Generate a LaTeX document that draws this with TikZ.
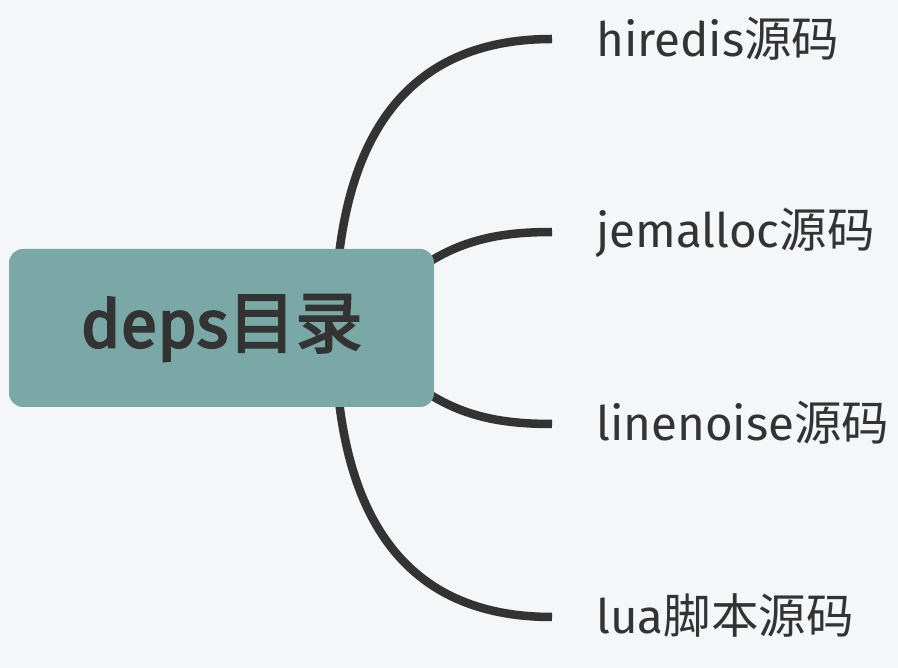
\documentclass[tikz,border=0pt]{standalone}
\usepackage{fontspec}
\setmainfont{Fira Sans}
\newfontfamily\cjk{Noto Sans CJK SC}
\newfontfamily\rootlatin{Fira Sans}[FakeBold=3]
\newfontfamily\rootcjk{Noto Sans CJK SC}[FakeBold=3]
\usetikzlibrary{calc}
\definecolor{bgc}{HTML}{F5F6F8}
\definecolor{boxc}{HTML}{79A8A7}
\definecolor{ink}{HTML}{333333}
\begin{document}
\begin{tikzpicture}[x=1pt,y=-1pt,
  branch/.style={draw=ink, line width=8.5pt},
  leaf/.style={anchor=base west, inner sep=0pt, text=ink, font=\fontsize{47.5}{56}\selectfont},
  rootbox/.style={fill=boxc, rounded corners=14pt, minimum width=425pt, minimum height=158pt, inner sep=0pt, text=ink, font=\fontsize{67}{80}\selectfont}]
  \fill[bgc] (0,0) rectangle (898,668);
  \useasboundingbox (0,0) rectangle (898,668);
  % hidden start points and line ends
  \coordinate (s1) at (335,328);
  \coordinate (s2) at (420,268);
  \coordinate (s3) at (420,388);
  \coordinate (s4) at (335,328);
  \coordinate (e1) at (552,39);
  \coordinate (e2) at (552,232);
  \coordinate (e3) at (552,424);
  \coordinate (e4) at (552,617);
  % branches
  \draw[branch] (s1) .. controls (335,136) and (407,39) .. (e1);
  \draw[branch] (s2) .. controls (460,240) and (500,232) .. (e2);
  \draw[branch] (s3) .. controls (460,416) and (500,424) .. (e3);
  \draw[branch] (s4) .. controls (335,520) and (407,617) .. (e4);
  % root
  \node[rootbox] (root) at (221.5,328) {{\rootlatin deps}{\rootcjk 目录}};
  % leaves
  \node[leaf] (h1) at ($(e1)+(44,18)$) {hiredis{\cjk 源码}};
  \node[leaf] (h2) at ($(e2)+(44,16)$) {jemalloc{\cjk 源码}};
  \node[leaf] (h3) at ($(e3)+(44,17)$) {linenoise{\cjk 源码}};
  \node[leaf] (h4) at ($(e4)+(44,16)$) {lua{\cjk 脚本源码}};
\end{tikzpicture}
\end{document}
